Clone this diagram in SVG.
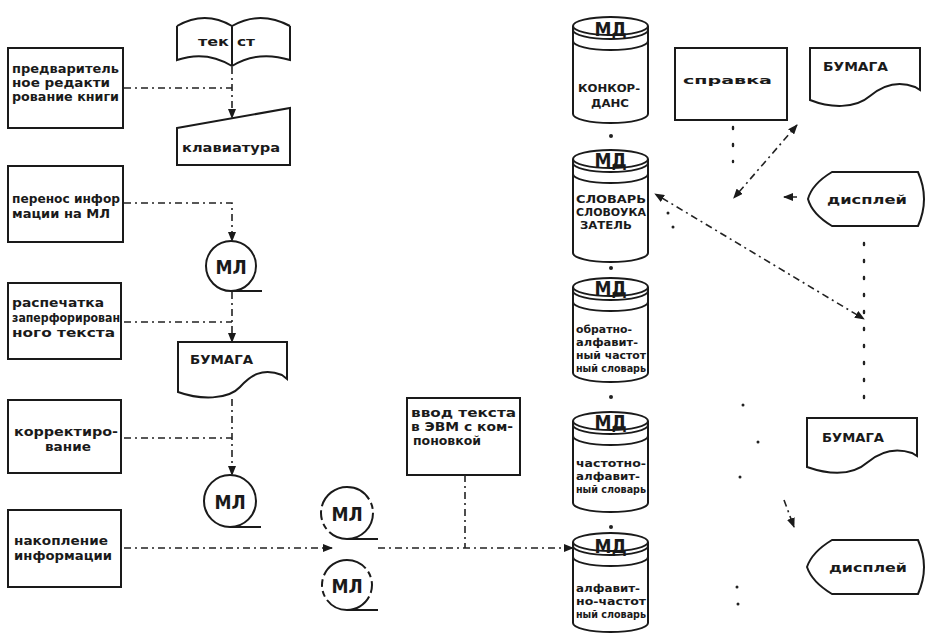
<svg xmlns="http://www.w3.org/2000/svg" width="931" height="639" viewBox="0 0 931 639">
<style>
.bx{fill:none;stroke:#1a1a1a;stroke-width:2}
.t{font-family:"DejaVu Sans Condensed","DejaVu Sans",sans-serif;font-weight:bold;font-size:12px;fill:#1a1a1a}
.tc{font-family:"DejaVu Sans Condensed","DejaVu Sans",sans-serif;font-weight:bold;font-size:11px;fill:#1a1a1a}
.tm{font-family:"DejaVu Sans Condensed","DejaVu Sans",sans-serif;font-weight:bold;font-size:19px;fill:#1a1a1a;text-anchor:middle}
.c{fill:none;stroke:#222;stroke-width:1.6;stroke-dasharray:7 4 2 4}
.d{fill:none;stroke:#222;stroke-width:2.4;stroke-dasharray:2 15;stroke-linecap:round}
.dot{fill:#222}
</style>
<defs>
<marker id="a" markerWidth="10" markerHeight="8" refX="9" refY="4" orient="auto" markerUnits="userSpaceOnUse">
<path d="M0,0 L10,4 L0,8 z" fill="#1a1a1a"/>
</marker>
<marker id="as" markerWidth="10" markerHeight="8" refX="1" refY="4" orient="auto-start-reverse" markerUnits="userSpaceOnUse">
<path d="M0,0 L10,4 L0,8 z" fill="#1a1a1a"/>
</marker>
</defs>

<!-- left process boxes -->
<g id="n-predv">
<rect class="bx" x="8" y="48" width="115" height="80"/>
<text class="t" x="12" y="73" textLength="107" lengthAdjust="spacingAndGlyphs">предваритель</text>
<text class="t" x="12" y="87" textLength="98" lengthAdjust="spacingAndGlyphs">ное редакти</text>
<text class="t" x="12" y="101" textLength="107" lengthAdjust="spacingAndGlyphs">рование книги</text>
</g>
<g id="n-perenos">
<rect class="bx" x="8" y="166" width="115" height="76"/>
<text class="t" x="12" y="203" textLength="108" lengthAdjust="spacingAndGlyphs">перенос инфор</text>
<text class="t" x="12" y="218" textLength="98" lengthAdjust="spacingAndGlyphs">мации на МЛ</text>
</g>
<g id="n-raspech">
<rect class="bx" x="8" y="283" width="113" height="76"/>
<text class="t" x="12" y="307" textLength="92" lengthAdjust="spacingAndGlyphs">распечатка</text>
<text class="t" x="12" y="322" textLength="108" lengthAdjust="spacingAndGlyphs">заперфорирован</text>
<text class="t" x="12" y="337" textLength="103" lengthAdjust="spacingAndGlyphs">ного текста</text>
</g>
<g id="n-korr">
<rect class="bx" x="8" y="400" width="113" height="73"/>
<text class="t" x="14" y="436" textLength="104" lengthAdjust="spacingAndGlyphs">корректиро-</text>
<text class="t" x="45" y="451" textLength="46" lengthAdjust="spacingAndGlyphs">вание</text>
</g>
<g id="n-nakop">
<rect class="bx" x="8" y="510" width="113" height="77"/>
<text class="t" x="14" y="545" textLength="94" lengthAdjust="spacingAndGlyphs">накопление</text>
<text class="t" x="14" y="560" textLength="98" lengthAdjust="spacingAndGlyphs">информации</text>
</g>

<!-- center column -->
<g id="n-tekst">
<path class="bx" d="M177,26 Q205,10 232,26 Q260,10 290,26 M177,26 V60 Q206,50 232,66 Q258,50 290,60 V26 M232,26 V66"/>
<text class="t" x="198" y="46" textLength="31" lengthAdjust="spacingAndGlyphs">тек</text>
<text class="t" x="237" y="46" textLength="18" lengthAdjust="spacingAndGlyphs">ст</text>
</g>
<g id="n-klav">
<polygon class="bx" points="177,128 290,108 290,165 177,165"/>
<text class="t" x="182" y="152" font-size="13" textLength="98" lengthAdjust="spacingAndGlyphs">клавиатура</text>
</g>
<g id="n-ml1">
<circle class="bx" cx="231" cy="266" r="25"/>
<path class="bx" d="M231,291 H262"/>
<text class="tm" x="231" y="274">МЛ</text>
</g>
<g id="n-bum1">
<path class="bx" d="M178,342 H287 V379 L282,375 C262,367 250,376 240,387 C228,400 200,400 178,392 Z"/>
<text class="t" x="190" y="364" font-size="13" textLength="63" lengthAdjust="spacingAndGlyphs">БУМАГА</text>
</g>
<g id="n-ml2">
<circle class="bx" cx="230" cy="501" r="26"/>
<path class="bx" d="M230,527 H261"/>
<text class="tm" x="230" y="509">МЛ</text>
</g>
<g id="n-ml3">
<circle class="bx" cx="347" cy="513" r="26" stroke-dasharray="60 4 6 4 10 4"/>
<path class="bx" d="M347,539 H378"/>
<text class="tm" x="347" y="521">МЛ</text>
</g>
<g id="n-ml4">
<circle class="bx" cx="347" cy="585" r="25" stroke-dasharray="8 4 50 4 6 4"/>
<path class="bx" d="M347,610 H378"/>
<text class="tm" x="347" y="593">МЛ</text>
</g>
<g id="n-vvod">
<rect class="bx" x="407" y="398" width="113" height="77"/>
<text class="t" x="411" y="417" textLength="105" lengthAdjust="spacingAndGlyphs">ввод текста</text>
<text class="t" x="411" y="431" textLength="102" lengthAdjust="spacingAndGlyphs">в ЭВМ с ком-</text>
<text class="t" x="413" y="445" textLength="68" lengthAdjust="spacingAndGlyphs">поновкой</text>
</g>

<!-- cylinders -->
<g id="n-md1">
<ellipse class="bx" cx="610.5" cy="26" rx="37.5" ry="9"/>
<path class="bx" d="M573,30 A37.5,9 0 0 0 648,30 M573,41 A37.5,9 0 0 0 648,41 M573,26 V114 M648,26 V114 M573,114 A37.5,9 0 0 0 648,114"/>
<text class="tm" x="610.5" y="36" font-size="16">МД</text>
<text class="tc" x="578" y="92" font-size="13" textLength="62" lengthAdjust="spacingAndGlyphs">КОНКОР-</text>
<text class="tc" x="591" y="107" font-size="13" textLength="38" lengthAdjust="spacingAndGlyphs">ДАНС</text>
</g>
<g id="n-md2">
<ellipse class="bx" cx="610.5" cy="159" rx="37.5" ry="9"/>
<path class="bx" d="M573,163 A37.5,9 0 0 0 648,163 M573,174 A37.5,9 0 0 0 648,174 M573,159 V253 M648,159 V253 M573,253 A37.5,9 0 0 0 648,253"/>
<text class="tm" x="610.5" y="167" font-size="16">МД</text>
<text class="tc" x="576" y="203" textLength="70" lengthAdjust="spacingAndGlyphs">СЛОВАРЬ</text>
<text class="tc" x="576" y="216" textLength="70" lengthAdjust="spacingAndGlyphs">СЛОВОУКА</text>
<text class="tc" x="580" y="229" textLength="52" lengthAdjust="spacingAndGlyphs">ЗАТЕЛЬ</text>
</g>
<g id="n-md3">
<ellipse class="bx" cx="610.5" cy="287" rx="37.5" ry="9"/>
<path class="bx" d="M573,291 A37.5,9 0 0 0 648,291 M573,302 A37.5,9 0 0 0 648,302 M573,287 V373 M648,287 V373 M573,373 A37.5,9 0 0 0 648,373"/>
<text class="tm" x="610.5" y="295" font-size="16">МД</text>
<text class="tc" x="576" y="333" textLength="56" lengthAdjust="spacingAndGlyphs">обратно-</text>
<text class="tc" x="576" y="346" textLength="62" lengthAdjust="spacingAndGlyphs">алфавит-</text>
<text class="tc" x="576" y="359" textLength="70" lengthAdjust="spacingAndGlyphs">ный частот</text>
<text class="tc" x="576" y="372" textLength="70" lengthAdjust="spacingAndGlyphs">ный словарь</text>
</g>
<g id="n-md4">
<ellipse class="bx" cx="610.5" cy="421" rx="37.5" ry="9"/>
<path class="bx" d="M573,425 A37.5,9 0 0 0 648,425 M573,436 A37.5,9 0 0 0 648,436 M573,421 V503 M648,421 V503 M573,503 A37.5,9 0 0 0 648,503"/>
<text class="tm" x="610.5" y="429" font-size="16">МД</text>
<text class="tc" x="576" y="467" textLength="70" lengthAdjust="spacingAndGlyphs">частотно-</text>
<text class="tc" x="576" y="480" textLength="64" lengthAdjust="spacingAndGlyphs">алфавит-</text>
<text class="tc" x="576" y="493" textLength="70" lengthAdjust="spacingAndGlyphs">ный словарь</text>
</g>
<g id="n-md5">
<ellipse class="bx" cx="610.5" cy="542" rx="37.5" ry="9"/>
<path class="bx" d="M573,546 A37.5,9 0 0 0 648,546 M573,557 A37.5,9 0 0 0 648,557 M573,542 V623 M648,542 V623 M573,623 A37.5,9 0 0 0 648,623"/>
<text class="tm" x="610.5" y="553" font-size="16">МД</text>
<text class="tc" x="576" y="592" textLength="64" lengthAdjust="spacingAndGlyphs">алфавит-</text>
<text class="tc" x="576" y="605" textLength="70" lengthAdjust="spacingAndGlyphs">но-частот</text>
<text class="tc" x="576" y="618" textLength="70" lengthAdjust="spacingAndGlyphs">ный словарь</text>
</g>

<!-- right side -->
<g id="n-spravka">
<rect class="bx" x="675" y="48" width="112" height="72"/>
<text class="tc" x="683" y="84" font-size="12" textLength="89" lengthAdjust="spacingAndGlyphs">справка</text>
</g>
<g id="n-bum2">
<path class="bx" d="M810,48 H920 V90 L915,87 C897,80 882,86 870,96 C855,109 830,108 810,100 Z"/>
<text class="t" x="823" y="71" font-size="13" textLength="65" lengthAdjust="spacingAndGlyphs">БУМАГА</text>
</g>
<g id="n-disp1">
<path class="bx" d="M832,172 H918 Q930,199 918,226 H832 Q812,214 808,199 Q812,184 832,172 Z"/>
<text class="t" x="827" y="204" font-size="16" textLength="80" lengthAdjust="spacingAndGlyphs">дисплей</text>
</g>
<g id="n-bum3">
<path class="bx" d="M807,418 H917 V456 L912,453 C894,447 880,452 868,462 C852,476 830,475 807,467 Z"/>
<text class="t" x="822" y="442" font-size="13" fill="#555" textLength="62" lengthAdjust="spacingAndGlyphs">БУМАГА</text>
</g>
<g id="n-disp2">
<path class="bx" d="M832,540 H918 Q930,567 918,594 H832 Q812,582 807,567 Q812,552 832,540 Z"/>
<text class="t" x="829" y="572" font-size="16" textLength="78" lengthAdjust="spacingAndGlyphs">дисплей</text>
</g>

<!-- connectors -->
<g id="connectors">
<path class="c" d="M124,88 H232 M232,67 V118" marker-end="url(#a)"/>
<path class="c" d="M124,203 H232 V241" marker-end="url(#a)"/>
<path class="c" d="M124,322 H232 M232,292 V342" marker-end="url(#a)"/>
<path class="c" d="M124,438 H232 M232,399 V475" marker-end="url(#a)"/>
<path class="c" d="M124,548 H332" marker-end="url(#a)"/>
<path class="c" d="M378,548 H573" marker-end="url(#a)"/>
<path class="c" d="M465,475 V548"/>
<circle class="dot" cx="611" cy="136" r="2"/>
<circle class="dot" cx="611" cy="268" r="2"/>
<circle class="dot" cx="611" cy="397" r="2"/>
<circle class="dot" cx="611" cy="527" r="2"/>
<path class="c" d="M797,197 H784" marker-end="url(#a)"/>
<path class="d" d="M733,127 V162"/>
<path class="c" d="M739,192 L797,125" marker-start="url(#as)" marker-end="url(#a)"/>
<path class="c" d="M662,198 L864,319" stroke-dasharray="3 9" stroke-width="2.2" marker-start="url(#as)" marker-end="url(#a)"/>
<circle class="dot" cx="668" cy="213" r="1.5"/>
<circle class="dot" cx="673" cy="227" r="1.5"/>
<path class="d" d="M864,243 V410"/>
<circle class="dot" cx="743" cy="405" r="1.5"/>
<circle class="dot" cx="758" cy="442" r="1.5"/>
<circle class="dot" cx="740" cy="477" r="1.5"/>
<path class="c" d="M784,500 L794,527" marker-end="url(#a)"/>
<circle class="dot" cx="737" cy="587" r="1.5"/>
<circle class="dot" cx="738" cy="604" r="1.5"/>
</g>
</svg>
